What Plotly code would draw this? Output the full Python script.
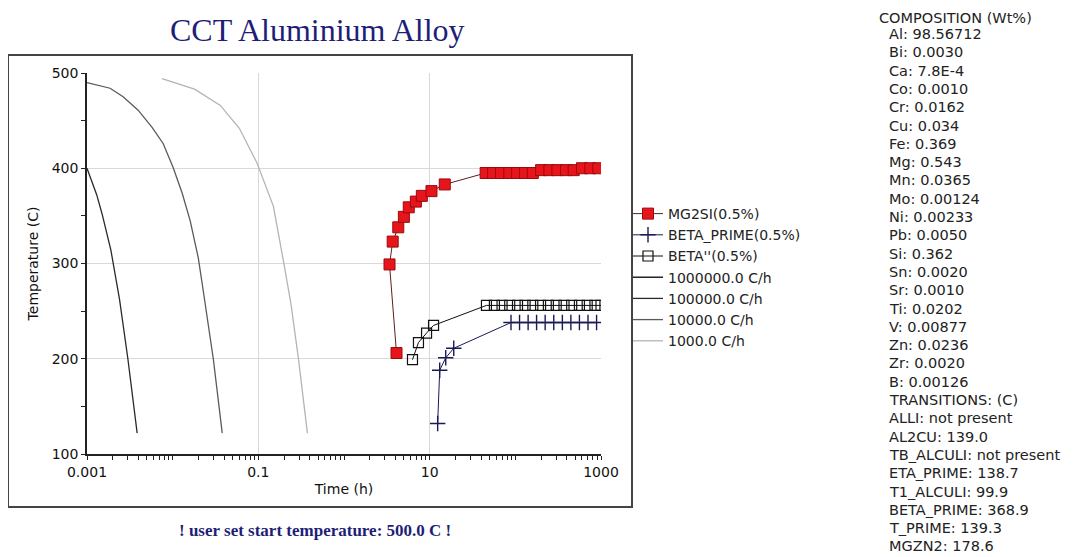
import plotly.graph_objects as go

# ---------------- data ----------------
# cooling curves (time h, temperature C)
t_1e6 = [0.0001, 0.0002, 0.0003, 0.000378]
T_1e6 = [400, 300, 200, 122]
t_1e5 = [0.001, 0.0013, 0.0015, 0.0019, 0.0024, 0.003, 0.00385]
T_1e5 = [400, 372, 352, 314, 262, 200, 122]
t_1e4 = [0.001, 0.00186, 0.00264, 0.00395, 0.00575, 0.00774, 0.0101, 0.0129,
         0.016, 0.0199, 0.0221, 0.0298, 0.0379]
T_1e4 = [490, 484, 475, 461, 443, 426, 401, 374, 345, 306, 279, 200, 122]
t_1e3 = [0.0075, 0.018, 0.036, 0.06, 0.097, 0.15, 0.196, 0.24, 0.294, 0.374]
T_1e3 = [494, 483, 466, 442, 405, 360, 303, 258, 200, 122]

# precipitation start curves
t_mg2si = [4.1, 3.4, 3.7, 4.3, 5.0, 5.7, 6.9, 8.1, 10.5, 15.0,
           45, 55, 68, 85, 105, 130, 160, 200, 250, 310, 390, 480, 600, 750, 930]
T_mg2si = [206, 299, 323, 338, 349, 359, 365, 371, 376, 383,
           395, 395, 395, 395, 395, 395, 395, 398, 398, 398, 398, 398, 400, 400, 400]
t_bprime = [12.4, 13.1, 15.4, 19.1, 89, 112, 141, 177, 223, 281, 354, 445, 560, 705, 888]
T_bprime = [132, 188, 201, 211, 238, 238, 238, 238, 238, 238, 238, 238, 238, 238, 238]
t_bdprime = [6.3, 7.4, 9.2, 11.1, 46, 57, 70, 86, 106, 130, 160, 197, 243, 300,
             370, 455, 560, 690, 850, 1000]
T_bdprime = [199, 217, 227, 235, 256, 256, 256, 256, 256, 256, 256, 256, 256, 256,
             256, 256, 256, 256, 256, 256]

series_names = ["MG2SI(0.5%)", "BETA_PRIME(0.5%)", "BETA''(0.5%)"]
cool_names = ["1000000.0 C/h", "100000.0 C/h", "10000.0 C/h", "1000.0 C/h"]

x_major = [0.001, 0.1, 10, 1000]
x_major_labels = ["0.001", "0.1", "10", "1000"]
y_major = [100, 200, 300, 400, 500]

comp_elements = ["Al", "Bi", "Ca", "Co", "Cr", "Cu", "Fe", "Mg", "Mn", "Mo", "Ni",
                 "Pb", "Si", "Sn", "Sr", "Ti", "V", "Zn", "Zr", "B"]
comp_values = ["98.56712", "0.0030", "7.8E-4", "0.0010", "0.0162", "0.034", "0.369",
               "0.543", "0.0365", "0.00124", "0.00233", "0.0050", "0.362", "0.0020",
               "0.0010", "0.0202", "0.00877", "0.0236", "0.0020", "0.00126"]
trans_names = ["ALLI", "AL2CU", "TB_ALCULI", "ETA_PRIME", "T1_ALCULI", "BETA_PRIME",
               "T_PRIME", "MGZN2"]
trans_values = ["not present", "139.0", "not present", "138.7", "99.9", "368.9",
                "139.3", "178.6"]

# ---------------- figure ----------------
OFF = 8  # page body margin
W, H = 1089 - OFF, 557 - OFF
L_PIX, R_PIX, T_PIX, B_PIX = 87, 601, 73, 454  # plot area in window pixels
ML, MT = L_PIX - OFF, T_PIX - OFF
MR, MB = W - (R_PIX - OFF), H - (B_PIX - OFF)
PW, PH = R_PIX - L_PIX, B_PIX - T_PIX


def px(xp):
    return (xp - L_PIX) / PW


def py(yp):
    return (B_PIX - yp) / PH


SANS = "DejaVu Sans"
SERIF = "Liberation Serif"
NAVY = "#1e1e78"

fig = go.Figure()

fig.add_trace(go.Scatter(
    x=t_mg2si, y=T_mg2si, name=series_names[0], mode="lines+markers",
    line=dict(color="#5a2020", width=1),
    marker=dict(symbol="square", size=11, color="#e8141c",
                line=dict(color="#9a0a0a", width=1))))
fig.add_trace(go.Scatter(
    x=t_bprime, y=T_bprime, name=series_names[1], mode="lines+markers",
    line=dict(color="#1a1a55", width=1),
    marker=dict(symbol="cross-thin", size=11, color="#1a1a55",
                line=dict(color="#1a1a55", width=1.4))))
fig.add_trace(go.Scatter(
    x=t_bdprime, y=T_bdprime, name=series_names[2], mode="lines+markers",
    line=dict(color="#111111", width=1),
    marker=dict(symbol="square-open", size=10, color="#111111",
                line=dict(color="#111111", width=1.2))))

cool_t = [t_1e6, t_1e5, t_1e4, t_1e3]
cool_T = [T_1e6, T_1e5, T_1e4, T_1e3]
cool_colors = ["#000000", "#2a2a2a", "#5a5a5a", "#b4b4b4"]
for name, tt, TT, col in zip(cool_names, cool_t, cool_T, cool_colors):
    fig.add_trace(go.Scatter(x=tt, y=TT, name=name, mode="lines",
                             line=dict(color=col, width=1.3)))

x_minor = []
for e in range(-3, 3):
    for m in range(1, 10):
        v = m * 10.0 ** e
        if all(abs(v - mv) > 1e-12 * max(1, mv) for mv in x_major):
            x_minor.append(v)

axis_font = dict(family=SANS, size=14, color="#111111")

fig.update_layout(
    width=W, height=H,
    margin=dict(l=ML, r=MR, t=MT, b=MB, autoexpand=False),
    paper_bgcolor="white", plot_bgcolor="white",
    showlegend=True,
    legend=dict(x=px(628), y=py(198), xanchor="left", yanchor="top",
                font=dict(family=SANS, size=14, color="#222222"),
                bgcolor="rgba(0,0,0,0)", itemwidth=30, tracegroupgap=0),
    xaxis=dict(type="log", range=[-3, 3], tickvals=x_major, ticktext=x_major_labels,
               ticks="outside", ticklen=4, tickcolor="#222222", tickwidth=1,
               minor=dict(tickvals=x_minor, ticks="outside", ticklen=4,
                          tickcolor="#222222", showgrid=False),
               showgrid=True, gridcolor="#d9d9d9", gridwidth=1,
               showline=True, linecolor="#222222", linewidth=1.5,
               zeroline=False, tickfont=axis_font,
               title=dict(text="Time (h)", font=axis_font, standoff=6)),
    xaxis2=dict(type="log", range=[-3, 3], overlaying="x", anchor="y", side="bottom",
                tickvals=x_major, ticks="inside", ticklen=4, tickcolor="#222222",
                minor=dict(tickvals=x_minor, ticks="inside", ticklen=4,
                           tickcolor="#222222", showgrid=False),
                showticklabels=False, showgrid=False, showline=False, zeroline=False),
    yaxis=dict(range=[100, 500], tickvals=y_major,
               ticks="outside", ticklen=4, tickcolor="#222222",
               minor=dict(dtick=50, ticks="outside", ticklen=4,
                          tickcolor="#222222", showgrid=False),
               showgrid=True, gridcolor="#d9d9d9", gridwidth=1,
               showline=True, linecolor="#222222", linewidth=1.5,
               zeroline=False, tickfont=axis_font,
               title=dict(text="Temperature (C)", font=axis_font, standoff=10)),
    yaxis2=dict(range=[100, 500], overlaying="y", anchor="x", side="left",
                tickvals=y_major, ticks="inside", ticklen=4, tickcolor="#222222",
                minor=dict(dtick=50, ticks="inside", ticklen=4,
                           tickcolor="#222222", showgrid=False),
                showticklabels=False, showgrid=False, showline=False, zeroline=False),
)

# outer frame around the chart panel
fig.add_shape(type="rect", xref="paper", yref="paper",
              x0=px(8), x1=px(632), y0=py(507), y1=py(55),
              line=dict(color="#444444", width=2), layer="below")

# title and footer
fig.add_annotation(text="CCT Aluminium Alloy", xref="paper", yref="paper",
                   x=px(317), y=py(30), showarrow=False, xanchor="center", yanchor="middle",
                   font=dict(family=SERIF, size=32, color=NAVY))
fig.add_annotation(text="<b>! user set start temperature: 500.0 C !</b>", xref="paper",
                   yref="paper", x=px(315), y=py(530), showarrow=False,
                   xanchor="center", yanchor="middle",
                   font=dict(family=SERIF, size=17, color=NAVY))

# composition / transitions panel
side_font = dict(family=SANS, size=14.5, color="#222222")
lines = ["COMPOSITION (Wt%)"]
lines += [f"{e}: {v}" for e, v in zip(comp_elements, comp_values)]
lines += ["TRANSITIONS: (C)"]
lines += [f"{n}: {v}" for n, v in zip(trans_names, trans_values)]
for i, s in enumerate(lines):
    xpix = 877 if i == 0 else 887
    ypix = 18 if i == 0 else 34 + 18.3 * (i - 1)
    fig.add_annotation(text=s, xref="paper", yref="paper", x=px(xpix), y=py(ypix),
                       showarrow=False, xanchor="left", yanchor="middle",
                       font=side_font)

fig.write_html("out.html")
